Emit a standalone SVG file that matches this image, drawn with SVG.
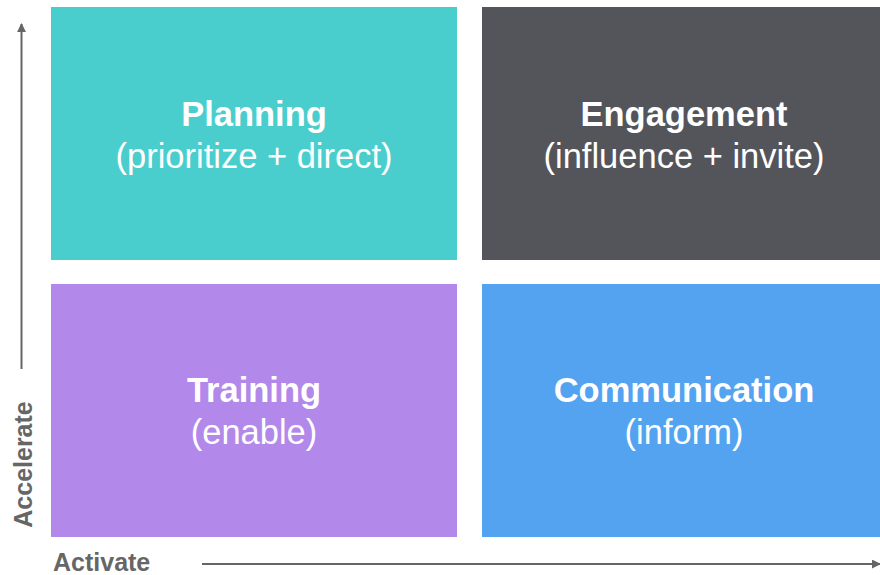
<svg xmlns="http://www.w3.org/2000/svg" width="880" height="575" viewBox="0 0 880 575">
<style>
.title{font-family:"Liberation Sans",Arial,sans-serif;font-weight:bold;font-size:34.5px;fill:#fff;text-anchor:middle}
.sub{font-family:"Liberation Sans",Arial,sans-serif;font-size:34.5px;fill:#fff;text-anchor:middle}
.axis{font-family:"Liberation Sans",Arial,sans-serif;font-weight:bold;font-size:25px;fill:#666}
.ax{stroke:#666;stroke-width:2;fill:none}
</style>
<defs>
<marker id="arr" viewBox="0 0 10 10" refX="9" refY="5" markerWidth="9" markerHeight="9" markerUnits="userSpaceOnUse" orient="auto">
<path d="M0,0 L10,5 L0,10 Z" fill="#666"/>
</marker>
</defs>
<rect width="880" height="575" fill="#fff"/>
<g id="planning">
<rect x="51" y="7" width="406" height="253" fill="#4ACECD"/>
<text class="title" x="254" y="126">Planning</text>
<text class="sub" x="254" y="167.5">(prioritize + direct)</text>
</g>
<g id="engagement">
<rect x="482" y="7" width="404" height="253" fill="#53555A"/>
<text class="title" x="684" y="126">Engagement</text>
<text class="sub" x="684" y="167.5">(influence + invite)</text>
</g>
<g id="training">
<rect x="51" y="284" width="406" height="253" fill="#B388EB"/>
<text class="title" x="254" y="402">Training</text>
<text class="sub" x="254" y="443.5">(enable)</text>
</g>
<g id="communication">
<rect x="482" y="284" width="404" height="253" fill="#53A3F0"/>
<text class="title" x="684" y="402">Communication</text>
<text class="sub" x="684" y="443.5">(inform)</text>
</g>
<g id="connectors">
<line class="ax" x1="21.5" y1="369" x2="21.5" y2="24" marker-end="url(#arr)"/>
<line class="ax" x1="202" y1="564" x2="880" y2="564" marker-end="url(#arr)"/>
</g>
<g id="labels">
<text class="axis" transform="translate(32,464.5) rotate(-90)" text-anchor="middle">Accelerate</text>
<text class="axis" x="53" y="570.5">Activate</text>
</g>
</svg>
